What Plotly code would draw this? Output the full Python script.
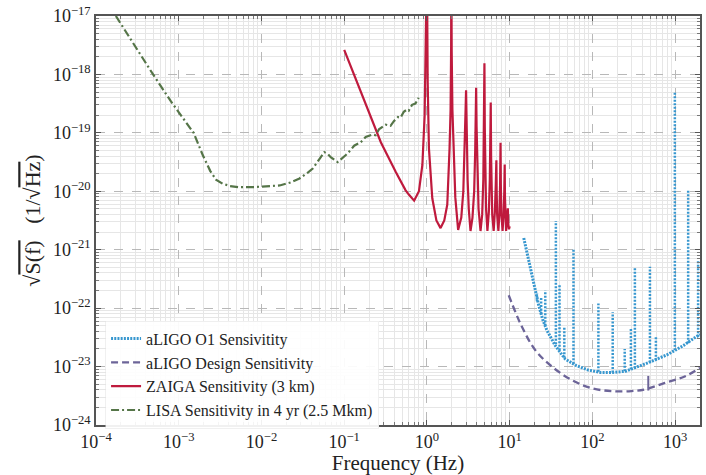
import plotly.graph_objects as go

# ---------------- data ----------------
# LISA sensitivity in 4 yr (2.5 Mkm): log10(f [Hz]), log10(h)
lisa_logf = [-3.76, -3.55, -3.31, -3.10, -2.95, -2.82, -2.71, -2.62, -2.55, -2.47,
             -2.38, -2.27, -2.11, -1.95, -1.78, -1.65, -1.54, -1.44, -1.38, -1.30,
             -1.24, -1.20, -1.16, -1.08, -1.03, -0.98, -0.92, -0.88, -0.80, -0.74,
             -0.66, -0.62, -0.58, -0.50, -0.44, -0.40, -0.35, -0.32, -0.28, -0.24,
             -0.22, -0.18, -0.14, -0.12, -0.10]
lisa_logh = [-17.00, -17.47, -18.00, -18.45, -18.75, -19.00, -19.38, -19.65, -19.80, -19.87,
             -19.91, -19.93, -19.93, -19.92, -19.90, -19.85, -19.78, -19.68, -19.61, -19.45,
             -19.33, -19.36, -19.42, -19.50, -19.44, -19.38, -19.29, -19.22, -19.16, -19.07,
             -19.03, -19.04, -18.94, -18.86, -18.88, -18.80, -18.73, -18.74, -18.64, -18.60,
             -18.62, -18.52, -18.50, -18.44, -18.40]

# ZAIGA sensitivity (3 km): f [Hz], log10(h)
zaiga_f = [0.100, 0.166, 0.277, 0.420, 0.550, 0.607, 0.700, 0.800, 0.880, 0.937, 0.973, 0.990, 1.000,
           1.008, 1.020, 1.057, 1.160, 1.300, 1.460, 1.620, 1.760, 1.875, 1.930, 1.960, 1.970,
           1.990, 2.030, 2.100, 2.200, 2.380, 2.600, 2.750, 2.850, 2.930, 2.970,
           3.010, 3.100, 3.200, 3.360, 3.550, 3.720, 3.830, 3.930,
           3.980, 4.080, 4.200, 4.440, 4.650, 4.800, 4.880, 4.950,
           5.000, 5.080, 5.180, 5.380, 5.600, 5.750, 5.840, 5.900,
           5.960, 6.050, 6.150, 6.400, 6.620, 6.780, 6.900,
           6.960, 7.050, 7.300, 7.500, 7.650, 7.750,
           7.820, 7.950, 8.200, 8.450, 8.600, 8.700,
           8.770, 8.850, 9.050, 9.250, 9.400, 9.500,
           9.600, 9.800, 10.00]
zaiga_logh = [-17.58, -18.37, -19.16, -19.67, -19.98, -20.06, -20.16, -20.00, -19.55, -18.71, -17.58, -16.80, -16.00,
              -17.00, -18.12, -19.27, -20.12, -20.50, -20.63, -20.50, -20.23, -19.27, -18.60, -17.50, -16.00,
              -17.60, -18.60, -19.40, -20.10, -20.66, -20.45, -20.00, -19.40, -18.60, -18.27,
              -18.90, -19.80, -20.30, -20.68, -20.45, -20.00, -19.30, -18.23,
              -18.90, -19.80, -20.30, -20.68, -20.40, -19.80, -19.10, -17.81,
              -18.90, -19.70, -20.30, -20.68, -20.35, -19.80, -19.20, -18.48,
              -19.40, -20.00, -20.40, -20.68, -20.35, -19.90, -19.47,
              -20.00, -20.40, -20.68, -20.40, -19.90, -19.17,
              -19.90, -20.40, -20.68, -20.40, -20.00, -19.54,
              -20.10, -20.45, -20.68, -20.50, -20.30, -20.29,
              -20.55, -20.65, -20.60]

# aLIGO design sensitivity: log10(f), log10(h)
design_logf = [0.988, 1.148, 1.31, 1.51, 1.75, 1.99, 2.23, 2.47, 2.635, 2.875, 3.115, 3.30]
design_logh = [-21.78, -22.32, -22.72, -23.00, -23.23, -23.37, -23.42, -23.42, -23.39, -23.28, -23.17, -23.02]
design_line_logf = [2.675, 2.675]
design_line_logh = [-23.41, -23.16]

# aLIGO O1 sensitivity: baseline log10(f), log10(h)
o1_logf = [1.17, 1.23, 1.29, 1.35, 1.40, 1.45, 1.55, 1.67, 1.80, 1.95, 2.10, 2.25,
           2.40, 2.50, 2.60, 2.70, 2.80, 2.90, 3.00, 3.10, 3.20, 3.30]
o1_logh = [-20.80, -21.20, -21.60, -21.95, -22.20, -22.38, -22.64, -22.87, -22.98, -23.06, -23.10, -23.10,
           -23.08, -23.03, -22.98, -22.92, -22.86, -22.80, -22.72, -22.64, -22.54, -22.45]
# O1 spectral lines: log10(f), log10(base), log10(top)
o1_line_logf = [1.33, 1.38, 1.43, 1.558, 1.602, 1.66, 1.771, 2.072, 2.245, 2.39,
                2.465, 2.513, 2.695, 2.767, 2.996, 3.157, 3.277]
o1_line_base = [-21.88, -22.10, -22.30, -22.62, -22.72, -22.85, -22.95, -23.09, -23.10, -23.08,
                -23.05, -23.03, -22.93, -22.89, -22.72, -22.60, -22.49]
o1_line_top = [-21.75, -21.80, -21.70, -20.51, -21.59, -22.32, -20.99, -21.92, -22.07, -22.70,
               -22.35, -21.31, -21.29, -22.49, -18.31, -19.98, -21.19]

x_tick_exp = [-4, -3, -2, -1, 0, 1, 2, 3]
y_tick_exp = [-24, -23, -22, -21, -20, -19, -18, -17]

# ---------------- figure ----------------
def p10(v):
    return [10 ** a for a in v]

C_O1 = "#3797cf"
C_DES = "#6c6498"
C_ZAI = "#bf1a3d"
C_LISA = "#557548"

fig = go.Figure()

fig.add_trace(go.Scatter(x=p10(o1_logf), y=p10(o1_logh), mode="lines",
                         name="aLIGO O1 Sensivitity", legendgroup="o1",
                         line=dict(color=C_O1, width=3, dash="2px,1.2px")))
sx, sy = [], []
for f, b, t in zip(o1_line_logf, o1_line_base, o1_line_top):
    sx += [10 ** f, 10 ** f, None]
    sy += [10 ** b, 10 ** t, None]
fig.add_trace(go.Scatter(x=sx, y=sy, mode="lines", showlegend=False, legendgroup="o1",
                         line=dict(color=C_O1, width=2.5, dash="2px,1.5px")))

fig.add_trace(go.Scatter(x=p10(design_logf), y=p10(design_logh), mode="lines",
                         name="aLIGO Design Sensitivity", line_shape="spline",
                         line=dict(color=C_DES, width=2.3, dash="7px,4px")))
fig.add_trace(go.Scatter(x=p10(design_line_logf), y=p10(design_line_logh), mode="lines",
                         showlegend=False, line=dict(color=C_DES, width=2)))

fig.add_trace(go.Scatter(x=zaiga_f, y=p10(zaiga_logh), mode="lines",
                         name="ZAIGA Sensitivity (3 km)",
                         line=dict(color=C_ZAI, width=2.2)))

fig.add_trace(go.Scatter(x=p10(lisa_logf), y=p10(lisa_logh), mode="lines",
                         name="LISA Sensitivity in 4 yr (2.5 Mkm)",
                         line=dict(color=C_LISA, width=2.2, dash="8px,3px,2px,3px")))

# minor tick / grid positions (2..9 within each decade)
x_minor = [k * 10.0 ** e for e in range(-4, 4) for k in range(2, 10) if k * 10.0 ** e < 2000]
y_minor = [k * 10.0 ** e for e in range(-24, -17) for k in range(2, 10)]

FONT = "Liberation Serif"
axis_common = dict(
    type="log", showline=True, linecolor="#555555", linewidth=1.5, mirror="allticks",
    ticks="inside", ticklen=5, tickcolor="#555555", tickwidth=1,
    showgrid=True, gridcolor="#b8b8b8", griddash="dash", gridwidth=1,
    zeroline=False, tickfont=dict(family=FONT, size=18, color="#222222"),
)
minor_common = dict(ticks="inside", ticklen=3, tickcolor="#777777",
                    showgrid=True, gridcolor="#e6e6e6", gridwidth=1, griddash="solid")

fig.update_xaxes(**axis_common, range=[-4, 3.30],
                 tickvals=[10 ** e for e in x_tick_exp],
                 ticktext=["10<sup>%s</sup>" % (str(e).replace("-", "−")) for e in x_tick_exp],
                 minor=dict(tickvals=x_minor, **minor_common),
                 title=dict(text="Frequency (Hz)", font=dict(family=FONT, size=21, color="#222222"),
                            standoff=4))
fig.update_yaxes(**axis_common, range=[-24, -17],
                 tickvals=[10 ** e for e in y_tick_exp],
                 ticktext=["10<sup>%s</sup>" % (str(e).replace("-", "−")) for e in y_tick_exp],
                 minor=dict(tickvals=y_minor, **minor_common),
                 title=dict(text="√<span style='text-decoration:overline'>S(f)</span>"
                                 "   (1/√<span style='text-decoration:overline'>Hz</span>)",
                            font=dict(family=FONT, size=22, color="#222222"), standoff=6))

fig.update_layout(
    width=706, height=475,
    margin=dict(l=96, r=4, t=16, b=46),
    paper_bgcolor="white", plot_bgcolor="white",
    font=dict(family=FONT, color="#222222"),
    legend=dict(x=0.015, y=0.255, xanchor="left", yanchor="top",
                bgcolor="rgba(255,255,255,0.92)", bordercolor="rgba(225,225,225,0.5)", borderwidth=1,
                font=dict(family=FONT, size=16, color="#222222"),
                tracegroupgap=0, itemwidth=30),
)

fig.write_html("out.html")
